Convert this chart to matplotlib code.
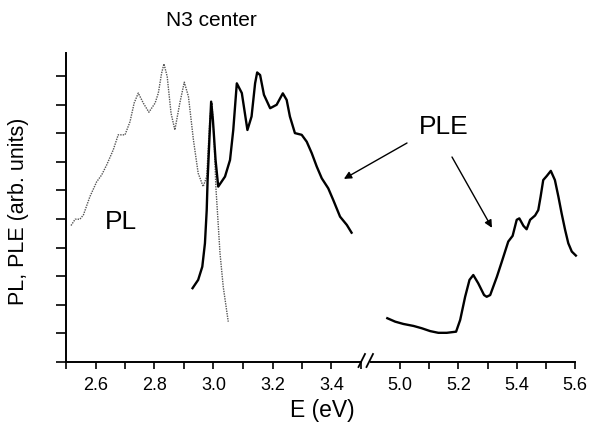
import numpy as np
import matplotlib
matplotlib.use("Agg")
import matplotlib.pyplot as plt
from matplotlib.lines import Line2D

plt.rcParams['font.family'] = ['Liberation Sans', 'DejaVu Sans']

# PL spectrum (dotted), left panel
pl_e = [2.517, 2.531, 2.547, 2.559, 2.581, 2.604, 2.621, 2.638, 2.660, 2.677,
        2.700, 2.717, 2.731, 2.745, 2.762, 2.781, 2.802, 2.813, 2.824, 2.832,
        2.843, 2.856, 2.869, 2.886, 2.901, 2.915, 2.932, 2.948, 2.965, 2.977,
        2.988, 2.995, 3.002, 3.008, 3.015, 3.022, 3.033, 3.050]
pl_i = [4.77, 4.99, 4.99, 5.14, 5.78, 6.30, 6.54, 6.89, 7.41, 7.94,
        7.94, 8.40, 9.05, 9.40, 9.05, 8.73, 9.05, 9.40, 10.09, 10.42,
        9.98, 8.70, 8.11, 9.06, 9.78, 9.28, 7.76, 6.60, 6.13, 6.48,
        8.58, 9.06, 7.76, 6.12, 4.97, 3.81, 2.63, 1.41]

# PLE spectrum, low energy part
ple1_e = [2.929, 2.948, 2.962, 2.971, 2.977, 2.980, 2.986, 2.992, 2.998, 3.007,
          3.016, 3.039, 3.056, 3.067, 3.079, 3.096, 3.115, 3.129, 3.141, 3.148,
          3.158, 3.171, 3.192, 3.214, 3.235, 3.248, 3.259, 3.276, 3.299, 3.316,
          3.333, 3.350, 3.367, 3.389, 3.406, 3.429, 3.452, 3.468]
ple1_i = [2.58, 2.87, 3.33, 4.15, 5.31, 6.36, 7.76, 9.10, 8.46, 7.06,
          6.13, 6.48, 7.06, 8.11, 9.74, 9.40, 8.11, 8.58, 9.74, 10.12,
          10.03, 9.34, 8.87, 8.99, 9.39, 9.16, 8.58, 8.00, 7.94, 7.70,
          7.30, 6.83, 6.42, 6.07, 5.66, 5.08, 4.79, 4.52]

# PLE spectrum, high energy part
ple2_e = [4.956, 4.983, 5.011, 5.046, 5.074, 5.103, 5.131, 5.160, 5.192, 5.206,
          5.223, 5.238, 5.251, 5.268, 5.288, 5.297, 5.309, 5.332, 5.349, 5.371,
          5.386, 5.400, 5.409, 5.423, 5.434, 5.446, 5.463, 5.474, 5.482, 5.491,
          5.503, 5.517, 5.531, 5.543, 5.554, 5.566, 5.577, 5.589, 5.603]
ple2_i = [1.53, 1.41, 1.33, 1.26, 1.18, 1.08, 1.02, 1.02, 1.06, 1.47,
          2.28, 2.87, 3.04, 2.75, 2.34, 2.28, 2.34, 2.98, 3.51, 4.21,
          4.41, 4.97, 5.02, 4.76, 4.64, 4.97, 5.12, 5.31, 5.78, 6.36,
          6.50, 6.68, 6.36, 5.78, 5.20, 4.62, 4.15, 3.86, 3.72]

W, H = 589, 426
fig = plt.figure(figsize=(W / 100, H / 100), dpi=100)

def px(x, y):
    # figure pixels (top-left origin) -> figure fraction
    return x / W, 1 - y / H

bot = 1 - 362 / H
hgt = (362 - 53) / H
ax1 = fig.add_axes([66 / W, bot, (361 - 66) / W, hgt])
ax2 = fig.add_axes([371 / W, bot, (575 - 371) / W, hgt])
ax1.patch.set_visible(False)
ax2.patch.set_visible(False)

ax1.plot(pl_e, pl_i, color='#555555', lw=1.0, ls=(0, (1, 0.8)))
ax1.plot(ple1_e, ple1_i, color='black', lw=1.7)
ax2.plot(ple2_e, ple2_i, color='black', lw=1.7, clip_on=False)

ax1.set_xlim(2.5, 3.5)
ax2.set_xlim(4.9, 5.6)
for ax in (ax1, ax2):
    ax.set_ylim(0, 10.8)
    ax.spines['top'].set_visible(False)
    ax.spines['right'].set_visible(False)
    ax.spines['bottom'].set_linewidth(1.4)
    ax.tick_params(axis='x', which='both', direction='out', length=5, width=1.2,
                   labelsize=13, pad=6)

ax1.spines['left'].set_linewidth(1.4)
ax1.set_xticks([2.6, 2.8, 3.0, 3.2, 3.4])
ax1.set_xticks([2.5, 2.7, 2.9, 3.1, 3.3, 3.5], minor=True)
ax1.set_yticks(np.arange(0, 11))
ax1.set_yticklabels([])
ax1.tick_params(axis='y', direction='out', length=7, width=1.2)

ax2.spines['left'].set_visible(False)
ax2.set_yticks([])
ax2.set_xticks([5.0, 5.2, 5.4, 5.6])
ax2.set_xticks([5.1, 5.3, 5.5], minor=True)

# axis break marks
for x0 in (358.5, 366.5):
    (xa, ya), (xb, yb) = px(x0, 367), px(x0 + 6.5, 354)
    fig.add_artist(Line2D([xa, xb], [ya, yb], color='black', lw=1.3))

fig.text(*px(211, 20), 'N3 center', ha='center', va='center', fontsize=15)
fig.text(*px(322, 410), 'E (eV)', ha='center', va='center', fontsize=16.5)
fig.text(*px(19, 211), 'PL, PLE (arb. units)', ha='center', va='center',
         rotation=90, fontsize=15.5)

ax1.text(2.686, 4.9, 'PL', ha='center', va='center', fontsize=19)
fig.text(*px(444, 127), 'PLE', ha='center', va='center', fontsize=19)

arrow = dict(arrowstyle='-|>', color='black', lw=1.0, mutation_scale=11,
             shrinkA=0, shrinkB=0)
a1 = ax1.annotate('', xy=(3.442, 6.40), xytext=px(407, 143),
                  textcoords='figure fraction', arrowprops=arrow,
                  annotation_clip=False)
a2 = ax2.annotate('', xy=(5.315, 4.69), xytext=px(452, 157),
                  textcoords='figure fraction', arrowprops=arrow,
                  annotation_clip=False)
for a in (a1, a2):
    a.set_clip_on(False)
    a.arrow_patch.set_clip_on(False)

fig.savefig('out.png', dpi=100)
